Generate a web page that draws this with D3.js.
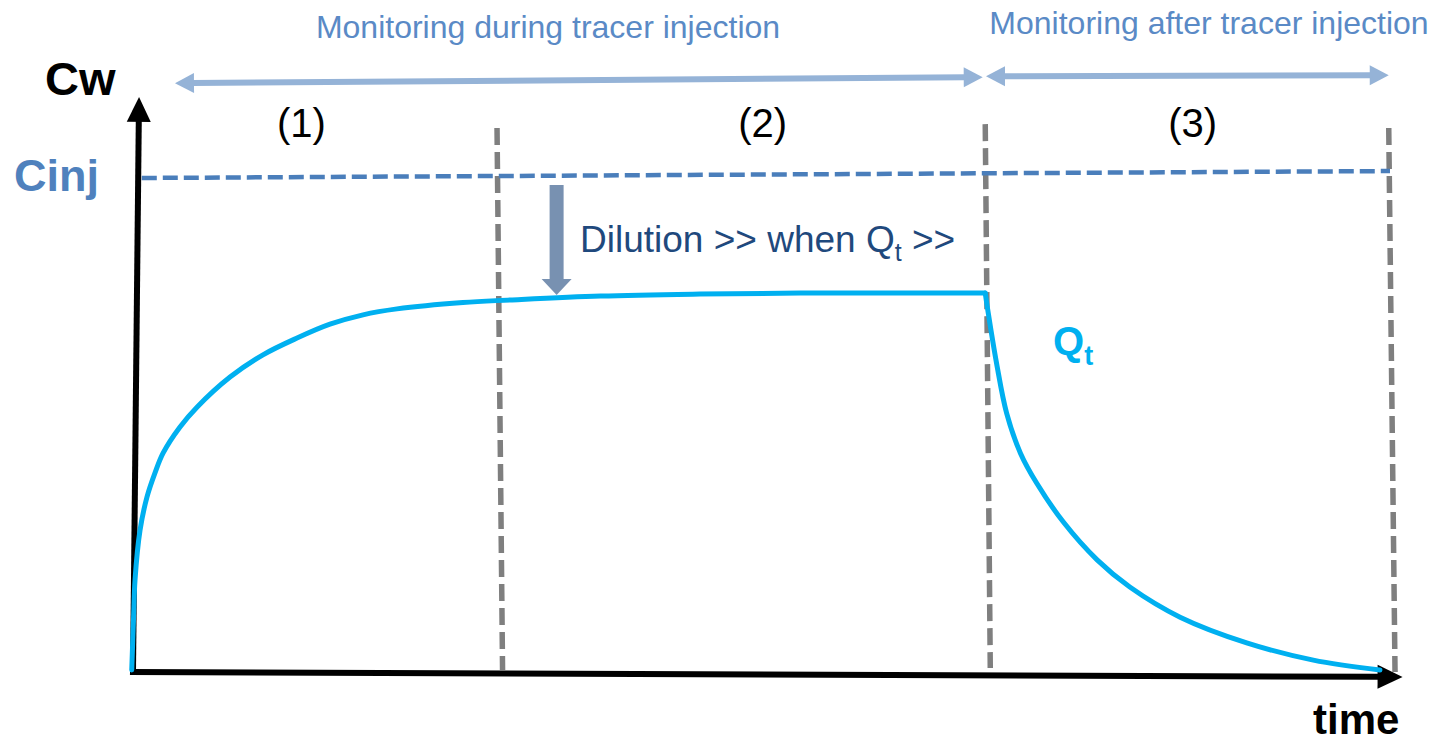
<!DOCTYPE html>
<html><head><meta charset="utf-8">
<script src="https://cdn.jsdelivr.net/npm/d3@7"></script>
<style>html,body{margin:0;padding:0;background:#fff;} svg{display:block;}</style>
</head><body><svg id="chart" width="1432" height="744"></svg>
<script>
// ---------- data (time in arbitrary units 0..100, concentration as % of Cinj) ----------
const riseTime  = [-0.1, 0.05, 0.16, 0.56, 1.11, 1.75, 2.39, 3.74, 5.09, 7.72, 10.34, 13.05, 15.67, 18.3, 21.0, 26.25, 30.0, 37.2, 45.1, 53.1, 67.8];
const riseConc  = [0, 11, 18.2, 28.3, 35.0, 39.9, 43.9, 49.2, 53.2, 59.3, 63.8, 67.2, 70.0, 71.9, 73.1, 74.4, 74.9, 75.7, 76.1, 76.3, 76.3];
const decayTime = [67.8, 68.0, 68.7, 69.5, 70.6, 71.9, 74.0, 76.7, 79.3, 83.3, 88.6, 93.9, 99.2];
const decayConc = [76.3, 72.9, 62.1, 52.0, 43.9, 37.8, 30.0, 22.3, 16.8, 10.7, 5.5, 2.0, 0];

const cinjTime = [0.7, 100.0];
const cinjConc = [99.6, 101.0];

const phaseTopTime    = [28.96, 67.8, 99.9];
const phaseTopConc    = [109.7, 110.5, 109.7];
const phaseBottomTime = [29.4, 68.2, 100.4];
const phaseBottomConc = [0, 0.4, -0.4];

const phaseLabels     = ["(1)", "(2)", "(3)"];
const phaseLabelTime  = [13.4, 50.1, 84.3];

const monitorLabels    = ["Monitoring during tracer injection", "Monitoring after tracer injection"];
const monitorStartTime = [3.34, 67.86];
const monitorEndTime   = [67.6, 99.9];
const monitorStartConc = [118.8, 120.2];
const monitorEndConc   = [120.0, 120.4];

const dilutionTime = 33.7;
const dilutionConc = [98.2, 75.9];

const yAxisTime = [0.0, 0.48];
const yAxisConc = [-0.4, 116];
const xAxisTime = [-0.24, 101.0];
const xAxisConc = [-0.4, -1.4];

// ---------- scales ----------
const svg = d3.select("#chart");
const x = d3.scaleLinear().domain([0, 100]).range([133, 1390]);
const y = d3.scaleLinear().domain([0, 100]).range([670, 176]);

const FONT = "'Liberation Sans', Arial, Helvetica, sans-serif";

function arrow(g, p0, p1, len, wid, color, width, both) {
  const dx = p1[0] - p0[0], dy = p1[1] - p0[1];
  const L = Math.hypot(dx, dy), ux = dx / L, uy = dy / L, nx = -uy, ny = ux;
  const s0 = both ? [p0[0] + ux * len * 0.9, p0[1] + uy * len * 0.9] : p0;
  const s1 = [p1[0] - ux * len * 0.9, p1[1] - uy * len * 0.9];
  g.append("line").attr("x1", s0[0]).attr("y1", s0[1]).attr("x2", s1[0]).attr("y2", s1[1])
    .attr("stroke", color).attr("stroke-width", width);
  const head = (tip, sx, sy) => {
    const bx = tip[0] - sx * len, by = tip[1] - sy * len;
    const pts = [tip, [bx + nx * wid / 2, by + ny * wid / 2], [bx - nx * wid / 2, by - ny * wid / 2]];
    g.append("polygon").attr("points", pts.map(p => p.join(",")).join(" ")).attr("fill", color);
  };
  head(p1, ux, uy);
  if (both) head(p0, -ux, -uy);
}

// phase boundaries (grey dashed)
const gPhase = svg.append("g");
phaseTopTime.forEach((t, i) => {
  gPhase.append("line")
    .attr("x1", x(t)).attr("y1", y(phaseTopConc[i]))
    .attr("x2", x(phaseBottomTime[i])).attr("y2", y(phaseBottomConc[i]))
    .attr("stroke", "#7f7f7f").attr("stroke-width", 5.5).attr("stroke-dasharray", "17,7");
});

// Cinj dashed line
svg.append("line")
  .attr("x1", x(cinjTime[0])).attr("y1", y(cinjConc[0]))
  .attr("x2", x(cinjTime[1])).attr("y2", y(cinjConc[1]))
  .attr("stroke", "#4a7ebb").attr("stroke-width", 4.5).attr("stroke-dasharray", "15,6");

// axes
const gAx = svg.append("g");
arrow(gAx, [x(yAxisTime[0]), y(yAxisConc[0])], [x(yAxisTime[1]), y(yAxisConc[1])], 25, 24, "#000", 6, false);
arrow(gAx, [x(xAxisTime[0]), y(xAxisConc[0])], [x(xAxisTime[1]), y(xAxisConc[1])], 25, 24, "#000", 6, false);

// concentration curve (rise + plateau, then decay after injection stops)
const rise = riseTime.map((t, i) => [t, riseConc[i]]);
const decay = decayTime.map((t, i) => [t, decayConc[i]]);
const line = d3.line().x(d => x(d[0])).y(d => y(d[1])).curve(d3.curveCatmullRom.alpha(0.5));
[rise, decay].forEach(seg => {
  svg.append("path").datum(seg).attr("d", line)
    .attr("fill", "none").attr("stroke", "#00b0f0").attr("stroke-width", 5)
    .attr("stroke-linejoin", "round").attr("stroke-linecap", "round");
});

// monitoring double arrows
const gMon = svg.append("g");
monitorLabels.forEach((lab, i) => {
  arrow(gMon, [x(monitorStartTime[i]), y(monitorStartConc[i])], [x(monitorEndTime[i]), y(monitorEndConc[i])], 19, 20, "#95b3d7", 6, true);
});
svg.append("text").attr("x", 548).attr("y", 38).attr("text-anchor", "middle")
  .attr("font-family", FONT).attr("font-size", 32).attr("fill", "#5a8ac6").text(monitorLabels[0]);
svg.append("text").attr("x", 1209).attr("y", 34).attr("text-anchor", "middle")
  .attr("font-family", FONT).attr("font-size", 32).attr("fill", "#5a8ac6").text(monitorLabels[1]);

// phase labels
phaseLabels.forEach((lab, i) => {
  svg.append("text").attr("x", x(phaseLabelTime[i])).attr("y", 137).attr("text-anchor", "middle")
    .attr("font-family", FONT).attr("font-size", 40).attr("fill", "#000").text(lab);
});

// dilution arrow + text
arrow(svg.append("g"), [x(dilutionTime), y(dilutionConc[0])], [x(dilutionTime), y(dilutionConc[1])], 16, 30, "#7891b1", 14, false);
const dt = svg.append("text").attr("x", 580).attr("y", 252)
  .attr("font-family", FONT).attr("font-size", 37).attr("fill", "#1f497d");
dt.append("tspan").text("Dilution >> when Q");
dt.append("tspan").attr("font-size", 25).attr("dy", 9).text("t");
dt.append("tspan").attr("dy", -9).text(" >>");

// Q_t label
const qt = svg.append("text").attr("x", 1053).attr("y", 355)
  .attr("font-family", FONT).attr("font-size", 40).attr("font-weight", "bold").attr("fill", "#00b0f0");
qt.append("tspan").text("Q");
qt.append("tspan").attr("font-size", 27).attr("dy", 10).text("t");

// axis labels
svg.append("text").attr("x", 45).attr("y", 95).attr("font-family", FONT).attr("font-size", 47)
  .attr("font-weight", "bold").attr("fill", "#000").text("Cw");
svg.append("text").attr("x", 14).attr("y", y(cinjConc[0]) + 13).attr("font-family", FONT).attr("font-size", 45)
  .attr("font-weight", "bold").attr("fill", "#4f81bd").text("Cinj");
svg.append("text").attr("x", 1313).attr("y", 734).attr("font-family", FONT).attr("font-size", 42)
  .attr("font-weight", "bold").attr("fill", "#000").text("time");
</script></body></html>
